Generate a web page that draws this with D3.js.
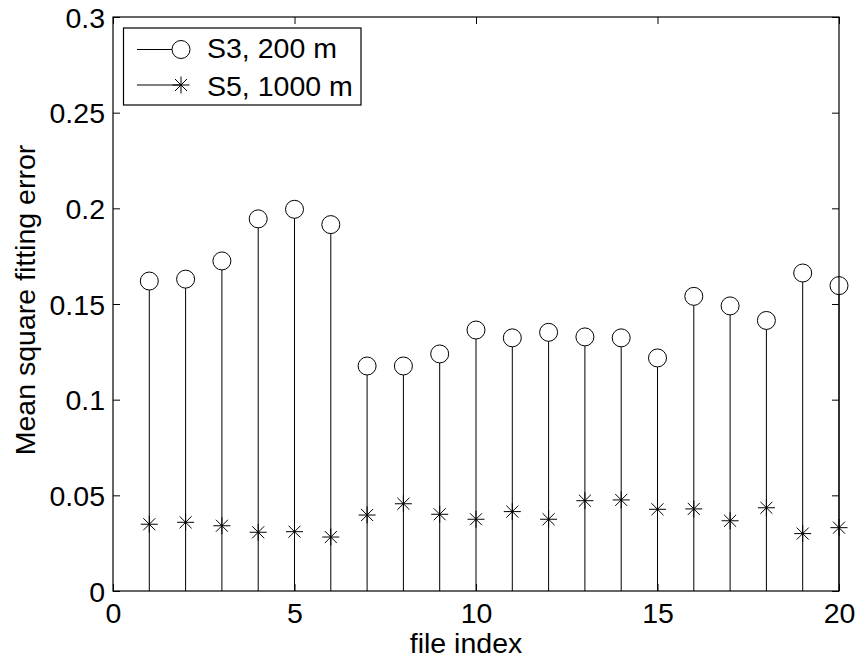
<!DOCTYPE html>
<html>
<head>
<meta charset="utf-8">
<script src="https://cdn.jsdelivr.net/npm/d3@7"></script>
<style>
  body { margin: 0; background: #fff; }
  svg { display: block; }
  text { font-family: "Liberation Sans", Arial, Helvetica, sans-serif; fill: #000; }
</style>
</head>
<body>
<svg id="chart" width="858" height="660"></svg>
<script>
const fileIndex = [1,2,3,4,5,6,7,8,9,10,11,12,13,14,15,16,17,18,19,20];
const s3Values = [0.162,0.163,0.1725,0.1945,0.1995,0.1915,0.1176,0.1176,0.1239,0.1364,0.1323,0.1352,0.1328,0.1323,0.1218,0.1540,0.1490,0.1414,0.1662,0.1596];
const s5Values = [0.0349,0.0359,0.0341,0.0307,0.0310,0.0282,0.0397,0.0456,0.0401,0.0375,0.0415,0.0375,0.0472,0.0476,0.0427,0.0429,0.0367,0.0435,0.0300,0.0331];
const xTicks = [0,5,10,15,20];
const yTicks = [0,0.05,0.1,0.15,0.2,0.25,0.3];
const yTickLabels = ["0","0.05","0.1","0.15","0.2","0.25","0.3"];
const seriesNames = ["S3, 200 m","S5, 1000 m"];

const svg = d3.select("#chart");
const m = {left:113, right:839, top:17, bottom:591};
const x = d3.scaleLinear().domain([0,20]).range([m.left, m.right]);
const y = d3.scaleLinear().domain([0,0.3]).range([m.bottom, m.top]);
const fs = 28.5;

// axes box
svg.append("rect").attr("x", m.left).attr("y", m.top)
  .attr("width", m.right-m.left).attr("height", m.bottom-m.top)
  .attr("fill","none").attr("stroke","#000").attr("stroke-width",1.2);

const tl = 7;
const fmtY = d => yTickLabels[yTicks.indexOf(d)];
const gB = svg.append("g").attr("transform",`translate(0,${m.bottom})`)
  .call(d3.axisBottom(x).tickValues(xTicks).tickSizeInner(-tl).tickSizeOuter(0).tickPadding(10).tickFormat(d3.format("d")));
const gT = svg.append("g").attr("transform",`translate(0,${m.top})`)
  .call(d3.axisTop(x).tickValues(xTicks).tickSizeInner(-tl).tickSizeOuter(0).tickFormat(""));
const gL = svg.append("g").attr("transform",`translate(${m.left},0)`)
  .call(d3.axisLeft(y).tickValues(yTicks).tickSizeInner(-tl).tickSizeOuter(0).tickPadding(8).tickFormat(fmtY));
const gR = svg.append("g").attr("transform",`translate(${m.right},0)`)
  .call(d3.axisRight(y).tickValues(yTicks).tickSizeInner(-tl).tickSizeOuter(0).tickFormat(""));
[gB,gT,gL,gR].forEach(g => {
  g.select(".domain").remove();
  g.selectAll(".tick line").attr("stroke","#000").attr("stroke-width",1);
  g.selectAll("text").style("font-size", fs+"px").attr("fill","#000");
});
gB.selectAll(".tick text").attr("dy","0").attr("y", 32);
gL.selectAll(".tick text").attr("dy","0.36em");

// stems and markers
const plot = svg.append("g");
plot.selectAll("line.s3").data(fileIndex).join("line").attr("class","s3")
  .attr("x1", d => x(d)).attr("x2", d => x(d))
  .attr("y1", y(0)).attr("y2", (d,i) => y(s3Values[i]) + 9)
  .attr("stroke","#000").attr("stroke-width",1);
plot.selectAll("circle.s3").data(fileIndex).join("circle").attr("class","s3")
  .attr("cx", d => x(d)).attr("cy", (d,i) => y(s3Values[i])).attr("r", 9)
  .attr("fill","none").attr("stroke","#000").attr("stroke-width",1);

const starPath = (cx, cy, r) => {
  const d = r*0.7071;
  return `M${cx-r},${cy}L${cx+r},${cy}M${cx},${cy-r}L${cx},${cy+r}` +
         `M${cx-d},${cy-d}L${cx+d},${cy+d}M${cx-d},${cy+d}L${cx+d},${cy-d}`;
};
plot.selectAll("path.s5").data(fileIndex).join("path").attr("class","s5")
  .attr("d", (d,i) => starPath(x(d), y(s5Values[i]), 8.5))
  .attr("stroke","#000").attr("stroke-width",1).attr("fill","none");

// axis titles
svg.append("text").attr("x", (m.left+m.right)/2 - 10).attr("y", 653)
  .attr("text-anchor","middle").style("font-size", fs+"px").text("file index");
svg.append("text").attr("transform", `translate(35,300) rotate(-90)`)
  .attr("text-anchor","middle").style("font-size", fs+"px").text("Mean square fitting error");

// legend
const lg = svg.append("g");
lg.append("rect").attr("x",123.5).attr("y",28).attr("width",237.5).attr("height",77)
  .attr("fill","#fff").attr("stroke","#000").attr("stroke-width",1.2);
const rows = [49.5, 85];
lg.append("line").attr("x1",137).attr("x2",172).attr("y1",rows[0]).attr("y2",rows[0]).attr("stroke","#000");
lg.append("circle").attr("cx",181).attr("cy",rows[0]).attr("r",9).attr("fill","none").attr("stroke","#000");
lg.append("line").attr("x1",137).attr("x2",181).attr("y1",rows[1]).attr("y2",rows[1]).attr("stroke","#000");
lg.append("path").attr("d", starPath(181, rows[1], 8.5)).attr("stroke","#000").attr("fill","none");
const baselines = [58, 96];
seriesNames.forEach((s,i) => {
  lg.append("text").attr("x",207).attr("y",baselines[i])
    .style("font-size", fs+"px").text(s);
});
</script>
</body>
</html>
